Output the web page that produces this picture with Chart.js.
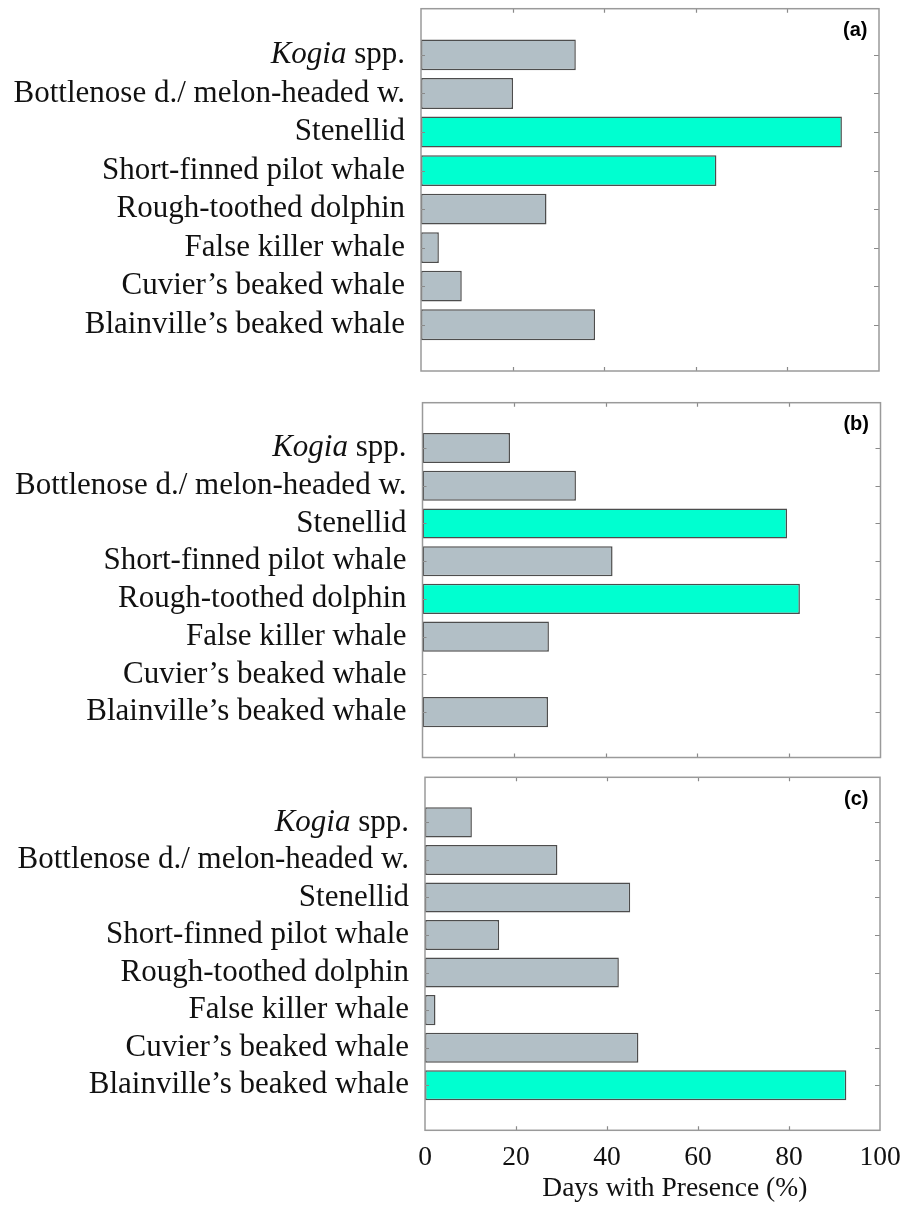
<!DOCTYPE html>
<html>
<head>
<meta charset="utf-8">
<script src="https://cdn.jsdelivr.net/npm/chart.js@4.4.1/dist/chart.umd.min.js"></script>
<style>
  html, body { margin: 0; padding: 0; background: #ffffff; }
  #wrap { position: relative; width: 909px; height: 1207px; overflow: hidden; }
  #wrap canvas { position: absolute; left: 0; }
</style>
</head>
<body>
<div id="wrap">
  <canvas id="panelA" width="909" height="385" style="top:0px"></canvas>
  <canvas id="panelB" width="909" height="375" style="top:385px"></canvas>
  <canvas id="panelC" width="909" height="447" style="top:760px"></canvas>
</div>
<script>
// Species groups (top to bottom)
const species = [
  "Kogia spp.",
  "Bottlenose d./ melon-headed w.",
  "Stenellid",
  "Short-finned pilot whale",
  "Rough-toothed dolphin",
  "False killer whale",
  "Cuvier\u2019s beaked whale",
  "Blainville\u2019s beaked whale"
];

// Days with presence (%) at each site
const siteA = [33.8, 20.1, 91.9, 64.5, 27.4, 3.9, 8.9, 38.0];
const siteB = [19.1, 33.5, 79.6, 41.5, 82.4, 27.6, 0, 27.4];
const siteC = [10.3, 29.1, 45.1, 16.3, 42.6, 2.3, 46.9, 92.6];

// Dominant groups at each site
const dominantA = ["Stenellid", "Short-finned pilot whale"];
const dominantB = ["Stenellid", "Rough-toothed dolphin"];
const dominantC = ["Blainville\u2019s beaked whale"];

// Axis labels
const xTickValues = [0, 20, 40, 60, 80, 100];
const innerTickValues = [20, 40, 60, 80];
const panelTags = ["(a)", "(b)", "(c)"];
const xTitle = "Days with Presence (%)";

const GREY = '#b2bfc6';
const CYAN = '#00ffd0';
const EDGE = '#4d4d4d';
const FRAME = '#9a9a9a';
const TICK = '#8a8a8a';
const SERIF = '"Liberation Serif", "Times New Roman", serif';
const SANS = '"Liberation Sans", Arial, sans-serif';
const LABEL_SIZE = 31;

// Frame, inward ticks, category labels and the panel tag
function decorPlugin(tag, withAxis) {
  return {
    id: 'panelDecor',
    afterDatasetsDraw(chart) {
      const { ctx, chartArea: a, scales } = chart;
      const xs = scales.x, ys = scales.y;
      ctx.save();
      ctx.strokeStyle = TICK;
      ctx.lineWidth = 1.2;
      ctx.beginPath();
      innerTickValues.forEach(v => {
        const px = Math.round(xs.getPixelForValue(v)) + 0.5;
        ctx.moveTo(px, a.top); ctx.lineTo(px, a.top + 4);
        ctx.moveTo(px, a.bottom); ctx.lineTo(px, a.bottom - 4);
      });
      species.forEach((s, i) => {
        const py = Math.round(ys.getPixelForValue(i)) + 0.5;
        ctx.moveTo(a.left, py); ctx.lineTo(a.left + 4, py);
        ctx.moveTo(a.right, py); ctx.lineTo(a.right - 5, py);
      });
      ctx.stroke();
      ctx.strokeStyle = FRAME;
      ctx.lineWidth = 1.5;
      ctx.strokeRect(a.left, a.top, a.right - a.left, a.bottom - a.top);
      ctx.restore();
    },
    afterDraw(chart) {
      const { ctx, chartArea: a, scales } = chart;
      const ys = scales.y;
      ctx.save();
      ctx.fillStyle = '#111111';
      ctx.textBaseline = 'middle';
      ctx.textAlign = 'right';
      const rightEdge = a.left - 16;
      species.forEach((s, i) => {
        const py = ys.getPixelForValue(i);
        if (s.endsWith(' spp.')) {
          // genus name in italics
          const genus = s.slice(0, -5);
          const rest = ' spp.';
          ctx.font = LABEL_SIZE + 'px ' + SERIF;
          ctx.fillText(rest, rightEdge, py);
          const w = ctx.measureText(rest).width;
          ctx.font = 'italic ' + LABEL_SIZE + 'px ' + SERIF;
          ctx.fillText(genus, rightEdge - w, py);
        } else {
          ctx.font = LABEL_SIZE + 'px ' + SERIF;
          ctx.fillText(s, rightEdge, py);
        }
      });
      ctx.font = 'bold 20px ' + SANS;
      ctx.fillStyle = '#000000';
      ctx.fillText(tag, a.right - 11.5, a.top + 22);
      if (withAxis) {
        ctx.font = '27.5px ' + SERIF;
        ctx.textAlign = 'center';
        ctx.fillStyle = '#111111';
        ctx.fillText(xTitle, a.left + (a.right - a.left) * 0.549, a.bottom + 58);
      }
      ctx.restore();
    }
  };
}

function makePanel(id, values, dominant, tag, pad, withAxis) {
  const ctx = document.getElementById(id).getContext('2d');
  return new Chart(ctx, {
    type: 'bar',
    data: {
      datasets: [{
        data: values.map((v, i) => ({ x: v, y: i })),
        backgroundColor: species.map(s => dominant.includes(s) ? CYAN : GREY),
        borderColor: EDGE,
        borderWidth: c => (c.raw && c.raw.x > 0) ? 1.5 : 0,
        borderSkipped: false,
        barPercentage: 0.8,
        categoryPercentage: 1
      }]
    },
    options: {
      indexAxis: 'y',
      responsive: false,
      animation: false,
      events: [],
      layout: { padding: pad },
      plugins: { legend: { display: false }, tooltip: { enabled: false } },
      scales: {
        x: {
          type: 'linear',
          min: 0,
          max: 100,
          display: withAxis,
          offset: false,
          grid: { display: false, drawTicks: false },
          border: { display: false },
          ticks: {
            font: { family: SERIF, size: 27.5 },
            color: '#111111',
            padding: 11.2,
            maxRotation: 0
          },
          afterBuildTicks: scale => { scale.ticks = xTickValues.map(v => ({ value: v })); },
          afterFit: scale => {
            if (withAxis) {
              scale.height = 76.7;
              scale.paddingLeft = 0;
              scale.paddingRight = 0;
            }
          }
        },
        y: {
          type: 'linear',
          min: -1.2,
          max: 8.2,
          bounds: 'data',
          offset: false,
          reverse: true,
          display: false
        }
      }
    },
    plugins: [decorPlugin(tag, withAxis)]
  });
}

makePanel('panelA', siteA, dominantA, panelTags[0],
  { left: 421, right: 30, top: 8.7, bottom: 14 }, false);
makePanel('panelB', siteB, dominantB, panelTags[1],
  { left: 422.5, right: 28.5, top: 17.7, bottom: 2.5 }, false);
makePanel('panelC', siteC, dominantC, panelTags[2],
  { left: 425, right: 29, top: 17.3, bottom: 0 }, true);
</script>
</body>
</html>
